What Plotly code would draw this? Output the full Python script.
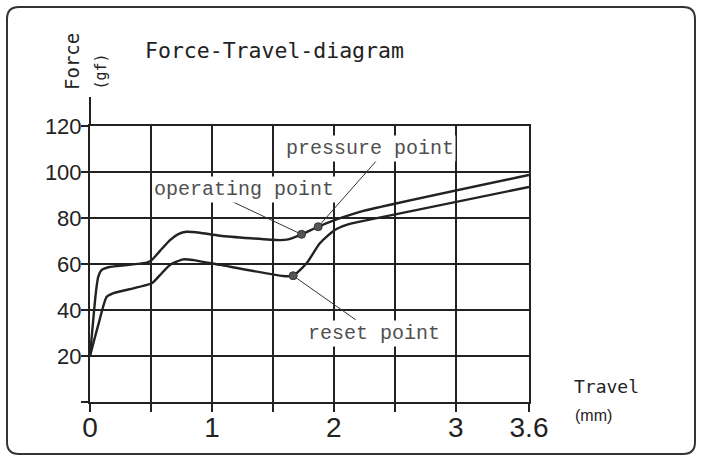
import plotly.graph_objects as go

# ---------------- data ----------------
# press (upper) curve: travel in mm, force in gf
press_x = [0, 0.049, 0.068, 0.096, 0.15, 0.465, 0.506, 0.574, 0.656, 0.724,
           0.792, 0.9, 1.066, 1.557, 1.625, 1.735, 1.871, 2.022, 2.213, 3.6]
press_y = [20, 48, 54.5, 57.4, 58.6, 60.6, 61.7, 65.7, 70.4, 73,
           74, 73.6, 72.3, 70.4, 70.7, 72.9, 76.2, 79.4, 82.7, 98.7]

# return (lower) curve
ret_x = [0, 0.068, 0.137, 0.191, 0.506, 0.574, 0.656, 0.765, 0.847, 1.066,
         1.584, 1.666, 1.776, 1.885, 2.008, 2.104, 2.213, 3.6]
ret_y = [20, 33.5, 45.8, 47.3, 51.6, 55.2, 59.6, 62, 61.7, 59.6,
         54.8, 54.9, 60.3, 69, 74.8, 77, 78.4, 93.5]

# characteristic points
point_names = ["operating point", "pressure point", "reset point"]
point_x = [1.735, 1.871, 1.666]
point_y = [72.9, 76.2, 54.9]

# axis ticks
x_tickvals = [0, 0.5, 1, 1.5, 2, 2.5, 3, 3.6]
x_ticktext = ["0", "", "1", "", "2", "", "3", "3.6"]
y_tickvals = [0, 20, 40, 60, 80, 100, 120]
y_ticktext = ["", "20", "40", "60", "80", "100", "120"]

title_text = "Force-Travel-diagram"
y_title = "Force"
y_unit = "(gf)"
x_title = "Travel"
x_unit = "(mm)"

# ---------------- layout geometry ----------------
W, H = 704, 462
ML, MR, MT, MB = 90, 175, 126, 60
PW, PH = W - ML - MR, H - MT - MB


def px(x):
    return (x - ML) / PW


def py(y):
    return (H - MB - y) / PH


# label placement (data coords): text centre and leader end
label_pos = {
    "operating point": dict(tx=1.266, ty=92.6, lx=1.172, ly=87.0),
    "pressure point": dict(tx=2.295, ty=110.4, lx=2.369, ly=106.1),
    "reset point": dict(tx=2.328, ty=30.0, lx=2.18, ly=35.7),
}

INK = "#222222"
GREY = "#505050"

fig = go.Figure()

fig.add_trace(go.Scatter(x=press_x, y=press_y, mode="lines",
                         line=dict(color=INK, width=2.4, shape="spline", smoothing=0.6),
                         hoverinfo="skip", showlegend=False))
fig.add_trace(go.Scatter(x=ret_x, y=ret_y, mode="lines",
                         line=dict(color=INK, width=2.4, shape="spline", smoothing=0.6),
                         hoverinfo="skip", showlegend=False))

annotations = []
for name, x0, y0 in zip(point_names, point_x, point_y):
    lp = label_pos[name]
    fig.add_trace(go.Scatter(x=[x0, lp["lx"]], y=[y0, lp["ly"]], mode="lines",
                             line=dict(color="#333333", width=1),
                             hoverinfo="skip", showlegend=False))
    annotations.append(dict(x=lp["tx"], y=lp["ty"], xref="x", yref="y",
                            xanchor="center", yanchor="middle",
                            text=name, showarrow=False, bgcolor="white",
                            borderpad=1,
                            font=dict(family="Liberation Mono", size=20, color=GREY)))

fig.add_trace(go.Scatter(x=point_x, y=point_y, mode="markers",
                         marker=dict(size=8, color="#555555",
                                     line=dict(color="#333333", width=1)),
                         hoverinfo="skip", showlegend=False))

annotations += [
    dict(x=px(143), y=py(51), xref="paper", yref="paper", xanchor="left",
         yanchor="middle", text=title_text, showarrow=False,
         font=dict(family="DejaVu Sans Mono", size=21.5, color=INK)),
    dict(x=px(72.5), y=py(61.5), xref="paper", yref="paper", textangle=-90,
         xanchor="center", yanchor="middle",
         text=y_title, showarrow=False,
         font=dict(family="DejaVu Sans Mono", size=19, color=INK)),
    dict(x=px(101), y=py(71.5), xref="paper", yref="paper", textangle=-90,
         xanchor="center", yanchor="middle",
         text=y_unit, showarrow=False,
         font=dict(family="DejaVu Sans Mono", size=15, color=INK)),
    dict(x=px(606), y=py(386), xref="paper", yref="paper",
         xanchor="center", yanchor="middle",
         text=x_title, showarrow=False,
         font=dict(family="DejaVu Sans Mono", size=18, color=INK)),
    dict(x=px(593), y=py(415), xref="paper", yref="paper",
         xanchor="center", yanchor="middle",
         text=x_unit, showarrow=False,
         font=dict(family="Liberation Sans", size=16, color=INK)),
]

# rounded outer frame
x0f, x1f, y0f, y1f = px(7), px(695), py(454), py(7)
rx, ry = 12 / PW, 12 / PH
frame_path = (
    f"M {x0f + rx},{y1f} L {x1f - rx},{y1f} Q {x1f},{y1f} {x1f},{y1f - ry} "
    f"L {x1f},{y0f + ry} Q {x1f},{y0f} {x1f - rx},{y0f} "
    f"L {x0f + rx},{y0f} Q {x0f},{y0f} {x0f},{y0f + ry} "
    f"L {x0f},{y1f - ry} Q {x0f},{y1f} {x0f + rx},{y1f} Z"
)
shapes = [
    dict(type="path", path=frame_path, xref="paper", yref="paper",
         line=dict(color="#333333", width=2)),
    dict(type="line", xref="paper", yref="paper", x0=0, x1=0, y0=1, y1=py(97),
         line=dict(color=INK, width=2)),
]

fig.update_layout(
    width=W, height=H,
    margin=dict(l=ML, r=MR, t=MT, b=MB, pad=0),
    paper_bgcolor="white", plot_bgcolor="white",
    annotations=annotations, shapes=shapes,
    xaxis=dict(range=[0, 3.6], tickvals=x_tickvals, ticktext=x_ticktext,
               showgrid=True, gridcolor=INK, gridwidth=2, zeroline=False,
               showline=True, mirror=True, linecolor=INK, linewidth=2,
               ticks="outside", ticklen=8, tickwidth=2, tickcolor=INK,
               ticklabelstandoff=-9,
               tickfont=dict(family="Liberation Sans", size=28, color=INK),
               fixedrange=True),
    yaxis=dict(range=[0, 120], tickvals=y_tickvals, ticktext=y_ticktext,
               showgrid=True, gridcolor=INK, gridwidth=2, zeroline=False,
               showline=True, mirror=True, linecolor=INK, linewidth=2,
               ticks="outside", ticklen=7, tickwidth=2, tickcolor=INK,
               ticklabelstandoff=-5,
               tickfont=dict(family="Liberation Sans", size=22, color=INK),
               fixedrange=True),
)

fig.write_html("out.html",
               config={"displayModeBar": False},
               post_script="document.body.style.margin='0px';")
